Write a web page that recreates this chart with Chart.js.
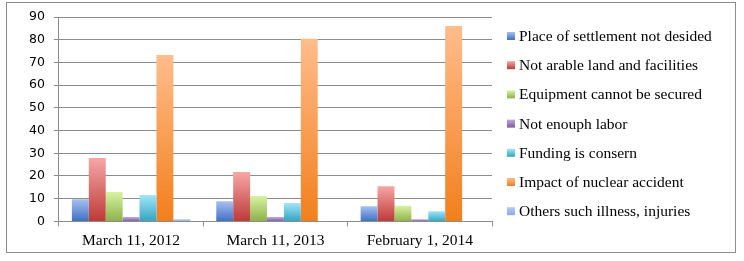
<!DOCTYPE html>
<html>
<head>
<meta charset="utf-8">
<script src="https://cdn.jsdelivr.net/npm/chart.js@4"></script>
<style>
  body { margin: 0; background: #fff; }
  #box { position: absolute; left: 6px; top: 2px; width: 728px; height: 249px; border: 1px solid #8c8c8c; }
</style>
</head>
<body>
<div id="box"><canvas id="graphBox"></canvas></div>
<script>
// Dates of the survey
const dates = ["March 11, 2012", "March 11, 2013", "February 1, 2014"];

// One array per reason (percent)
const placeNotDecided = [9.8, 8.9, 6.7];
const notArable = [27.9, 21.7, 15.5];
const equipment = [12.9, 11.2, 6.9];
const notEnoughLabor = [1.9, 1.9, 0.9];
const funding = [11.6, 8.1, 4.5];
const nuclearImpact = [73.3, 80.4, 86.0];
const others = [0.9, 0, 0];

const yTicks = [0, 10, 20, 30, 40, 50, 60, 70, 80, 90];

// light top / dark bottom of each bar
const palette = [
  ["#a6c0f2", "#3f6fc2"],
  ["#f7a6a5", "#bd3a37"],
  ["#d8f2a2", "#8bb249"],
  ["#c2a9e0", "#7a5b9e"],
  ["#a2e6fb", "#32a4c0"],
  ["#ffbc8c", "#f27f1c"],
  ["#b3cbf5", "#8aaae6"]
];

function barGradient(i) {
  return function (ctx) {
    const chart = ctx.chart;
    const y = chart.scales && chart.scales.y;
    if (!chart.chartArea || !y || ctx.raw === undefined) return palette[i][1];
    const top = y.getPixelForValue(ctx.raw);
    const bottom = y.getPixelForValue(0);
    if (bottom - top < 2) return palette[i][0];
    const g = chart.ctx.createLinearGradient(0, top, 0, bottom);
    g.addColorStop(0, palette[i][0]);
    g.addColorStop(1, palette[i][1]);
    return g;
  };
}

const series = [
  ["Place of settlement not desided", placeNotDecided],
  ["Not arable land and facilities", notArable],
  ["Equipment cannot be secured", equipment],
  ["Not enouph labor", notEnoughLabor],
  ["Funding is consern", funding],
  ["Impact of nuclear accident", nuclearImpact],
  ["Others such illness, injuries", others]
];

const datasets = series.map((s, i) => ({
  label: s[0],
  data: s[1],
  backgroundColor: barGradient(i),
  borderWidth: 0,
  categoryPercentage: 0.82,
  barPercentage: 1
}));

const serif = "'Liberation Serif', serif";

// Legend drawn by hand: the built-in one is squeezed to a quarter of the width
const sideLegend = {
  id: 'sideLegend',
  afterDraw(chart) {
    const ctx = chart.ctx;
    const area = chart.chartArea;
    const step = 29.2;
    const x = area.right + 15;
    let y = area.top + 19;
    ctx.save();
    ctx.font = "15.5px " + serif;
    ctx.textBaseline = 'middle';
    chart.data.datasets.forEach((d, i) => {
      const g = ctx.createLinearGradient(0, y - 4, 0, y + 4);
      g.addColorStop(0, palette[i][0]);
      g.addColorStop(1, palette[i][1]);
      ctx.fillStyle = g;
      ctx.fillRect(x, y - 4, 8, 8);
      ctx.fillStyle = "#000";
      ctx.fillText(d.label, x + 12, y + 1);
      y += step;
    });
    ctx.restore();
  }
};

new Chart(document.getElementById('graphBox'), {
  type: 'bar',
  data: { labels: dates, datasets: datasets },
  plugins: [sideLegend],
  options: {
    responsive: true,
    maintainAspectRatio: false,
    animation: false,
    layout: { padding: { top: 10, right: 243, left: 13, bottom: -3 } },
    plugins: {
      tooltip: { enabled: false },
      legend: { display: false }
    },
    scales: {
      x: {
        grid: { offset: true, drawOnChartArea: false, drawTicks: true, tickLength: 5, color: "#8c8c8c" },
        border: { color: "#8c8c8c" },
        ticks: { color: "#000", font: { family: serif, size: 15.5 }, padding: 5 }
      },
      y: {
        min: 0,
        max: 90,
        afterBuildTicks: axis => { axis.ticks = yTicks.map(v => ({ value: v })); },
        grid: { color: "#8c8c8c", tickLength: 5 },
        border: { color: "#8c8c8c" },
        ticks: { color: "#000", font: { family: "'DejaVu Sans', sans-serif", size: 12.5, lineHeight: 0.8 }, padding: 9 }
      }
    }
  }
});
</script>
</body>
</html>
